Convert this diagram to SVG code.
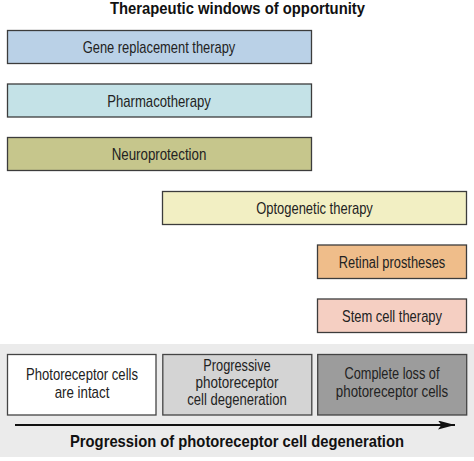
<svg xmlns="http://www.w3.org/2000/svg" width="474" height="461" viewBox="0 0 474 461">
<defs>
<style>
text{font-family:"Liberation Sans Narrow","Liberation Sans",Arial,sans-serif;fill:#222;text-anchor:middle}
.lbl{font-size:17px}
.sm{font-size:16px}
.b{font-weight:bold;font-size:16.5px;fill:#111}
.t{font-size:17px}
.bar{stroke:#3c3c3c;stroke-width:1.3}
.stage{stroke:#444;stroke-width:1.3}
</style>
<marker id="ah" viewBox="0 0 10 10" refX="10" refY="5" markerWidth="17" markerHeight="9" markerUnits="userSpaceOnUse" orient="auto" preserveAspectRatio="none">
<path d="M0,0 L10,5 L0,10 L2,5 Z" fill="#111"/>
</marker>
</defs>
<rect width="474" height="461" fill="#fff"/>
<text id="title" class="b t" x="237.5" y="14" textLength="255" lengthAdjust="spacingAndGlyphs">Therapeutic windows of opportunity</text>
<g id="gene">
<rect class="bar" x="7.5" y="30.5" width="304" height="33" fill="#bad1e7"/>
<text class="lbl" x="159" y="53" textLength="152.6" lengthAdjust="spacingAndGlyphs">Gene replacement therapy</text>
</g>
<g id="pharma">
<rect class="bar" x="7.5" y="84" width="304" height="33" fill="#c4e2e7"/>
<text class="lbl" x="159" y="106.5" textLength="103.7" lengthAdjust="spacingAndGlyphs">Pharmacotherapy</text>
</g>
<g id="neuro">
<rect class="bar" x="7.5" y="137.5" width="304" height="33" fill="#c6c68c"/>
<text class="lbl" x="159" y="160.3" textLength="94.7" lengthAdjust="spacingAndGlyphs">Neuroprotection</text>
</g>
<g id="opto">
<rect class="bar" x="162.5" y="191.5" width="304" height="33" fill="#f2efc3"/>
<text class="lbl" x="314.5" y="214.3" textLength="116.7" lengthAdjust="spacingAndGlyphs">Optogenetic therapy</text>
</g>
<g id="retinal">
<rect class="bar" x="317.5" y="245" width="149" height="33.5" fill="#efbd8a"/>
<text class="sm" x="392" y="268" textLength="106.4" lengthAdjust="spacingAndGlyphs">Retinal prostheses</text>
</g>
<g id="stem">
<rect class="bar" x="317.5" y="299" width="149" height="33.5" fill="#f5cfc2"/>
<text class="lbl" x="392" y="322" textLength="100" lengthAdjust="spacingAndGlyphs">Stem cell therapy</text>
</g>
<rect id="panel" x="0" y="344" width="474" height="113" fill="#ebebeb"/>
<g id="intact">
<rect class="stage" x="7.5" y="354.5" width="148.5" height="60.5" fill="#ffffff"/>
<text class="lbl" x="82" y="379.5" textLength="112" lengthAdjust="spacingAndGlyphs">Photoreceptor cells</text>
<text class="lbl" x="82" y="397.5" textLength="54.7" lengthAdjust="spacingAndGlyphs">are intact</text>
</g>
<g id="progressive">
<rect class="stage" x="162.8" y="354.5" width="149" height="60.5" fill="#d4d4d4"/>
<text class="sm" x="237" y="371" textLength="67.4" lengthAdjust="spacingAndGlyphs">Progressive</text>
<text class="sm" x="237" y="388" textLength="83" lengthAdjust="spacingAndGlyphs">photoreceptor</text>
<text class="sm" x="237" y="405.3" textLength="99.3" lengthAdjust="spacingAndGlyphs">cell degeneration</text>
</g>
<g id="complete">
<rect class="stage" x="317.7" y="354.5" width="149" height="60.5" fill="#9c9c9c"/>
<text class="sm" x="392" y="379.3" textLength="95" lengthAdjust="spacingAndGlyphs">Complete loss of</text>
<text class="sm" x="392" y="397.3" textLength="112.3" lengthAdjust="spacingAndGlyphs">photoreceptor cells</text>
</g>
<g id="connectors">
<line x1="15" y1="425" x2="455" y2="425" stroke="#111" stroke-width="2" marker-end="url(#ah)"/>
</g>
<text id="axis-label" class="b" x="237" y="446.7" textLength="334" lengthAdjust="spacingAndGlyphs">Progression of photoreceptor cell degeneration</text>
</svg>
